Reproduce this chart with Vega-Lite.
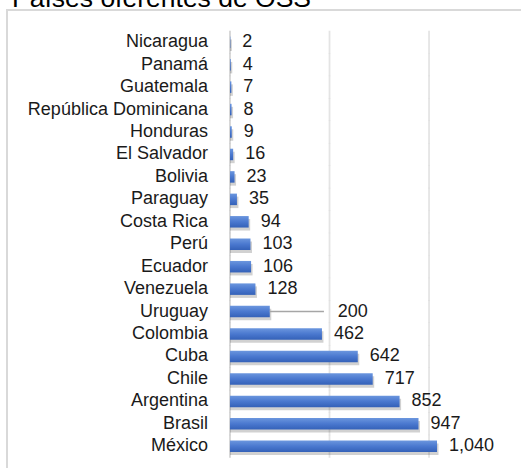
{
  "$schema": "https://vega.github.io/schema/vega-lite/v6.json",
  "autosize": "none",
  "padding": {"left": 7, "top": 10, "right": 0, "bottom": 0},
  "width": 520,
  "height": 470,
  "background": "white",
  "title": {
    "text": "Países oferentes de OSS",
    "anchor": "start",
    "font": "Liberation Sans",
    "fontSize": 26.5,
    "fontWeight": "normal",
    "color": "#000000",
    "baseline": "top",
    "offset": 0,
    "dx": 5,
    "dy": 2
  },
  "config": {
    "view": {"stroke": "#d9d9d9", "strokeWidth": 2},
    "text": {"font": "Liberation Sans", "fontSize": 18, "color": "#1a1a1a"}
  },
  "data": {
    "values": [
      {"country": "Nicaragua", "value": 2},
      {"country": "Panamá", "value": 4},
      {"country": "Guatemala", "value": 7},
      {"country": "República Dominicana", "value": 8},
      {"country": "Honduras", "value": 9},
      {"country": "El Salvador", "value": 16},
      {"country": "Bolivia", "value": 23},
      {"country": "Paraguay", "value": 35},
      {"country": "Costa Rica", "value": 94},
      {"country": "Perú", "value": 103},
      {"country": "Ecuador", "value": 106},
      {"country": "Venezuela", "value": 128},
      {"country": "Uruguay", "value": 200},
      {"country": "Colombia", "value": 462},
      {"country": "Cuba", "value": 642},
      {"country": "Chile", "value": 717},
      {"country": "Argentina", "value": 852},
      {"country": "Brasil", "value": 947},
      {"country": "México", "value": 1040}
    ]
  },
  "encoding": {
    "y": {
      "field": "country",
      "type": "nominal",
      "sort": null,
      "scale": {"range": [21, 447.5], "paddingInner": 0, "paddingOuter": 0},
      "axis": null
    }
  },
  "layer": [
    {
      "mark": {"type": "tick", "orient": "vertical", "size": 23, "thickness": 1.8, "color": "#d9d9d9"},
      "encoding": {
        "x": {"datum": 500, "type": "quantitative", "scale": {"domain": [-1120, 1492], "nice": false, "zero": false}, "axis": null}
      }
    },
    {
      "mark": {"type": "tick", "orient": "vertical", "size": 23, "thickness": 1.8, "color": "#d9d9d9"},
      "encoding": {"x": {"datum": 1000, "type": "quantitative"}}
    },
    {
      "mark": {"type": "tick", "orient": "vertical", "size": 23, "thickness": 2, "color": "#c8c8c8"},
      "encoding": {"x": {"datum": 0, "type": "quantitative"}}
    },
    {
      "mark": {"type": "bar", "size": 11.5, "color": "#000000", "opacity": 0.18, "yOffset": 3, "xOffset": 1.5},
      "encoding": {"x": {"field": "value", "type": "quantitative"}, "x2": {"datum": 0}}
    },
    {
      "mark": {
        "type": "bar",
        "size": 11.5,
        "color": {
          "gradient": "linear",
          "x1": 0, "y1": 0, "x2": 0, "y2": 1,
          "stops": [
            {"offset": 0, "color": "#6b96de"},
            {"offset": 0.5, "color": "#4a78cf"},
            {"offset": 1, "color": "#3461b8"}
          ]
        }
      },
      "encoding": {"x": {"field": "value", "type": "quantitative"}, "x2": {"datum": 0}}
    },
    {
      "transform": [{"filter": "datum.country === 'Uruguay'"}],
      "mark": {"type": "rule", "color": "#a6a6a6", "strokeWidth": 1.5},
      "encoding": {"x": {"field": "value", "type": "quantitative"}, "x2": {"datum": 472}}
    },
    {
      "mark": {"type": "text", "align": "right", "baseline": "middle", "dx": -22},
      "encoding": {
        "x": {"datum": 0, "type": "quantitative"},
        "text": {"field": "country", "type": "nominal"}
      }
    },
    {
      "transform": [{"filter": "datum.country !== 'Uruguay'"}],
      "mark": {"type": "text", "align": "left", "baseline": "middle", "dx": 12},
      "encoding": {
        "x": {"field": "value", "type": "quantitative"},
        "text": {"field": "value", "type": "quantitative", "format": ","}
      }
    },
    {
      "transform": [{"filter": "datum.country === 'Uruguay'"}],
      "mark": {"type": "text", "align": "left", "baseline": "middle", "dx": 68},
      "encoding": {
        "x": {"field": "value", "type": "quantitative"},
        "text": {"field": "value", "type": "quantitative", "format": ","}
      }
    }
  ]
}
